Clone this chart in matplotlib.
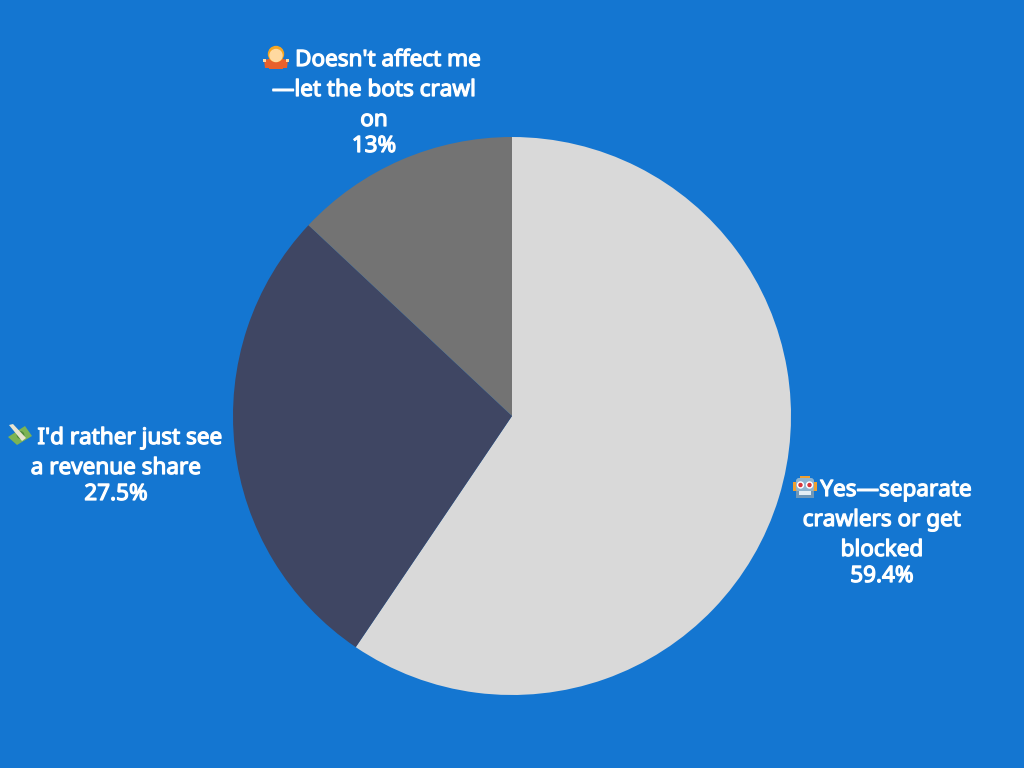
import matplotlib
matplotlib.use("Agg")
import matplotlib.pyplot as plt
import matplotlib.patheffects as pe
from matplotlib.patches import Circle, Rectangle, FancyBboxPatch, Polygon

# survey answers
labels = ["Yes—separate\ncrawlers or get\nblocked",
          "I'd rather just see\na revenue share",
          "Doesn't affect me\n—let the bots crawl\non"]
values = [59.4, 27.5, 13]
colors = ["#D9D9D9", "#3F4663", "#737373"]
value_labels = ["59.4%", "27.5%", "13%"]

BG = "#1476D1"
W, H = 1024, 768

plt.rcParams['font.family'] = ['Noto Sans', 'DejaVu Sans']

fig = plt.figure(figsize=(10.24, 7.68), dpi=100, facecolor=BG)

# pie sits in a square box around its centre
cx, cy, r = 512, 416, 279
ax = fig.add_axes([(cx - r) / W, 1 - (cy + r) / H, 2 * r / W, 2 * r / H])
ax.pie(values, colors=colors, startangle=90, counterclock=False, radius=1,
       wedgeprops={'linewidth': 0})
ax.set_xlim(-1, 1)
ax.set_ylim(-1, 1)

# overlay in pixel coordinates for the labels and the little icons
ov = fig.add_axes([0, 0, 1, 1])
ov.set_xlim(0, W)
ov.set_ylim(H, 0)
ov.axis('off')
ov.patch.set_alpha(0)

# Noto Sans only comes in one weight here, so thicken it with a stroke
heavy = [pe.withStroke(linewidth=0.9, foreground="white")]


def put_label(text, value, x, y0, icon_shift=0):
    lines = text.split("\n")
    for i, line in enumerate(lines):
        dx = icon_shift if i == 0 else 0
        ov.text(x + dx, y0 + 30 * i, line, color="white", fontsize=16.2,
                ha='center', va='center_baseline', path_effects=heavy)
    ov.text(x, y0 + 30 * (len(lines) - 1) + 26, value, color="white",
            fontsize=16.2, ha='center', va='center_baseline', path_effects=heavy)


def robot(x, y):
    ov.add_patch(Rectangle((x - 12, y - 5), 4, 9, color="#F0A030", lw=0))
    ov.add_patch(Rectangle((x + 8, y - 5), 4, 9, color="#F0A030", lw=0))
    ov.add_patch(Rectangle((x - 5, y - 11), 10, 3, color="#F0A030", lw=0))
    ov.add_patch(FancyBboxPatch((x - 9, y - 9), 18, 14, boxstyle="round,pad=0,rounding_size=3",
                                color="#8FB4D0", lw=0))
    ov.add_patch(Rectangle((x - 9, y + 4), 18, 7, color="#6F97B8", lw=0))
    ov.add_patch(Circle((x - 4.5, y - 2), 3, color="white"))
    ov.add_patch(Circle((x + 4.5, y - 2), 3, color="white"))
    ov.add_patch(Circle((x - 4.5, y - 2), 1.5, color="#D8343A"))
    ov.add_patch(Circle((x + 4.5, y - 2), 1.5, color="#D8343A"))
    ov.add_patch(Rectangle((x - 6, y + 4), 12, 3.5, color="#E4EEF5", lw=0))


def money(x, y):
    ov.add_patch(Polygon([(x - 12, y + 2), (x + 5, y - 9), (x + 12, y + 1), (x - 3, y + 10)],
                         color="#7CB354", lw=0))
    ov.add_patch(Circle((x + 0.5, y), 3.2, color="#4F8A3A"))
    ov.add_patch(Polygon([(x - 11, y - 10), (x - 7, y - 11), (x + 6, y + 3), (x + 2, y + 6)],
                         color="#E8E4D0", lw=0))


def shrug(x, y):
    ov.add_patch(Polygon([(x - 12, y + 2), (x - 7, y + 1), (x + 7, y + 1), (x + 12, y + 2),
                          (x + 11, y + 10), (x + 7, y + 10), (x + 7, y + 11), (x - 7, y + 11),
                          (x - 7, y + 10), (x - 11, y + 10)],
                         color="#E8602C", lw=0))
    ov.add_patch(Circle((x, y - 4), 7.5, color="#F6A623"))
    ov.add_patch(Circle((x, y - 2.5), 6, color="#FFD9A0"))
    ov.add_patch(Rectangle((x - 13, y + 1), 3, 2.5, color="#FFD9A0", lw=0))
    ov.add_patch(Rectangle((x + 10, y + 1), 3, 2.5, color="#FFD9A0", lw=0))


put_label(labels[0], value_labels[0], 882, 488, icon_shift=14)
put_label(labels[1], value_labels[1], 116, 436, icon_shift=14)
put_label(labels[2], value_labels[2], 374, 58, icon_shift=14)

robot(805, 487)
money(20, 435)
shrug(276, 58)

fig.savefig("out.png", dpi=100, facecolor=BG)
